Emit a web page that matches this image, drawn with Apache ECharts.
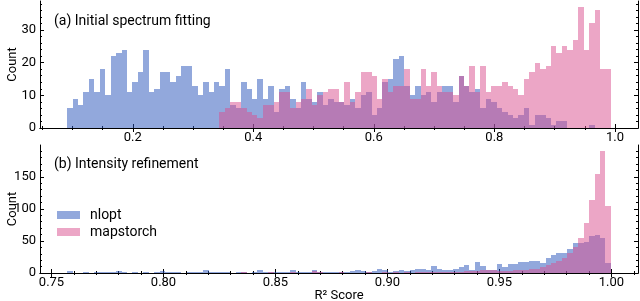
<!DOCTYPE html>
<html><head><meta charset="utf-8">
<script src="https://cdn.jsdelivr.net/npm/echarts@6/dist/echarts.min.js"></script>
<style>html,body{margin:0;padding:0;background:#fff}#c{width:640px;height:301px}</style>
</head><body><div id="c"></div><script>
// ---- data ----
const topBinStart = 0.0912, topBinWidth = 0.00902;
const topNlopt = [6,9,7,11,15,11,18,10,22,23,
 24,11,14,17,24,11,12,17,17,14,
 16,19,19,13,10,14,11,14,13,18,
 7,6,14,12,9,15,9,13,5,12,
 13,9,6,14,9,8,11,7,9,8,
 8,7,9,6,10,11,4,6,14,15,
 21,22,13,10,13,10,11,8,11,13,
 13,8,16,13,11,12,6,9,8,6,
 5,4,3,4,6,1,4,4,3,1,
 2,2,0,0,0,0,1,0,0,0];
const topMapstorch = [0,0,0,0,0,0,0,0,0,0,
 0,0,0,0,0,0,0,0,0,0,
 0,0,0,0,0,0,0,0,5,6,
 8,8,6,5,4,3,7,7,8,11,
 11,6,8,9,12,7,10,11,12,12,
 8,14,8,11,17,17,16,9,15,11,
 13,13,18,9,9,18,13,17,13,11,
 11,10,16,13,19,11,19,11,13,13,
 14,13,12,10,15,17,20,18,19,25,
 23,25,24,27,37,24,32,36,18,18];
const botBinStart = 0.757, botBinWidth = 0.002427;
const botNlopt = [3,0,0,1,0,1,2,2,1,3,
 1,0,1,0,1,0,1,3,1,2,
 2,0,1,2,1,5,1,2,1,1,
 0,1,1,0,1,4,1,1,2,1,
 2,5,2,1,2,4,2,1,1,1,
 2,1,3,5,3,2,3,6,4,2,
 3,5,3,4,6,7,5,11,6,5,
 4,6,9,12,5,17,11,5,5,14,
 10,14,14,17,17,19,19,15,24,28,
 31,31,37,46,46,49,57,59,54,16];
const botMapstorch = [0,0,0,0,0,0,0,0,0,0,
 0,0,0,0,0,0,0,0,0,0,
 0,0,0,0,0,0,0,0,0,0,
 0,0,2,0,0,0,0,1,0,0,
 0,1,0,0,0,3,2,0,0,0,
 1,0,0,0,0,1,0,0,1,0,
 1,0,1,0,1,2,1,1,1,1,
 2,2,2,3,3,3,4,5,5,3,
 3,3,4,4,5,6,7,9,12,15,
 19,23,31,40,54,78,114,154,190,105];
const seriesNames = ['nlopt', 'mapstorch'];
const topXTicks = [0.2,0.4,0.6,0.8,1.0];
const topXMinor = [0.05,0.1,0.15,0.25,0.3,0.35,0.45,0.5,0.55,0.65,0.7,0.75,0.85,0.9,0.95];
const topYTicks = [0,10,20,30];
const topYMinor = [2,4,6,8,12,14,16,18,22,24,26,28,32,34,36,38];
const botXTicks = [0.75,0.80,0.85,0.90,0.95,1.00];
const botXMinor = [0.76,0.77,0.78,0.79,0.81,0.82,0.83,0.84,0.86,0.87,0.88,0.89,0.91,0.92,0.93,0.94,0.96,0.97,0.98,0.99,1.01];
const botYTicks = [0,50,100,150];
const botYMinor = [10,20,30,40,60,70,80,90,110,120,130,140,160,170,180,190];
const panelTitles = ['(a) Initial spectrum fitting', '(b) Intensity refinement'];
const xName = 'R² Score', yName = 'Count';

// ---- styling ----
const FONT = 'Roboto';
const BLUE = 'rgba(37,81,185,0.5)';
const PINK = 'rgba(217,77,141,0.5)';
const BLUE_SOLID = 'rgb(146,168,220)';
const PINK_SOLID = 'rgb(236,166,198)';
const INK = '#000';

function bins(start, w, counts){
  return counts.map((c,i)=>[start+i*w, start+(i+1)*w, c]);
}
function extentOf(start, w, n){
  const span = w*n; return [start-0.05*span, start+span+0.05*span];
}
const topX = extentOf(topBinStart, topBinWidth, topNlopt.length);
const botX = extentOf(botBinStart, botBinWidth, botNlopt.length);
const topYMax = 1.05*Math.max(...topNlopt, ...topMapstorch);
const botYMax = 1.05*Math.max(...botNlopt, ...botMapstorch);

function render(color){
  return function(params, api){
    const a = api.coord([api.value(0), api.value(2)]);
    const b = api.coord([api.value(1), 0]);
    const x0 = Math.round(a[0]), x1 = Math.round(b[0]);
    const y0 = Math.round(a[1]), y1 = Math.round(b[1]);
    return {type:'rect', shape:{x:x0, y:y0, width:x1-x0, height:y1-y0}, style:{fill:color}};
  };
}

const line = {show:true, lineStyle:{color:INK, width:1}};
function xAxes(grid, ext, major, minor, fmt, withName){
  const base = {type:'value', gridIndex:grid, min:ext[0], max:ext[1], splitLine:{show:false}};
  return [
    Object.assign({}, base, {position:'bottom', axisLine:line,
      axisTick:{inside:true, length:4, customValues:major, lineStyle:{color:INK}},
      axisLabel:{customValues:major, formatter:v=>v.toFixed(fmt), fontFamily:FONT, fontSize:13, color:INK, margin:3},
      name: withName? xName : '', nameLocation:'middle', nameGap:16, nameMoveOverlap:false,
      nameTextStyle:{fontFamily:FONT, fontSize:13, color:INK}}),
    Object.assign({}, base, {position:'bottom', axisLine:{show:false},
      axisTick:{inside:true, length:2, customValues:minor, lineStyle:{color:INK}}, axisLabel:{show:false}}),
    Object.assign({}, base, {position:'top', axisLine:line,
      axisTick:{inside:true, length:4, customValues:major, lineStyle:{color:INK}}, axisLabel:{show:false}}),
    Object.assign({}, base, {position:'top', axisLine:{show:false},
      axisTick:{inside:true, length:2, customValues:minor, lineStyle:{color:INK}}, axisLabel:{show:false}})
  ];
}
function yAxes(grid, max, major, minor){
  const base = {type:'value', gridIndex:grid, min:0, max:max, splitLine:{show:false}};
  return [
    Object.assign({}, base, {position:'left', axisLine:line,
      axisTick:{inside:true, length:4, customValues:major, lineStyle:{color:INK}},
      axisLabel:{customValues:major, fontFamily:FONT, fontSize:13, color:INK, margin:4},
      name:yName, nameLocation:'middle', nameGap:21, nameMoveOverlap:false,
      nameTextStyle:{fontFamily:FONT, fontSize:13, color:INK}}),
    Object.assign({}, base, {position:'left', axisLine:{show:false},
      axisTick:{inside:true, length:2, customValues:minor, lineStyle:{color:INK}}, axisLabel:{show:false}}),
    Object.assign({}, base, {position:'right', axisLine:line,
      axisTick:{inside:true, length:4, customValues:major, lineStyle:{color:INK}}, axisLabel:{show:false}}),
    Object.assign({}, base, {position:'right', axisLine:{show:false},
      axisTick:{inside:true, length:2, customValues:minor, lineStyle:{color:INK}}, axisLabel:{show:false}})
  ];
}

function hist(name, data, color, xi, yi){
  return {type:'custom', name:name, xAxisIndex:xi, yAxisIndex:yi, data:data,
    encode:{x:[0,1], y:2}, renderItem:render(color), itemStyle:{color:color}, silent:true, z:2};
}

const chart = echarts.init(document.getElementById('c'), null, {renderer:'canvas'});
chart.setOption({
  animation:false,
  backgroundColor:'#fff',
  grid:[{left:40, right:2, top:1, height:127, outerBoundsMode:'none', containLabel:false},
        {left:40, right:2, top:145, height:128, outerBoundsMode:'none', containLabel:false}],
  xAxis:[...xAxes(0, topX, topXTicks, topXMinor, 1, false), ...xAxes(1, botX, botXTicks, botXMinor, 2, true)],
  yAxis:[...yAxes(0, topYMax, topYTicks, topYMinor), ...yAxes(1, botYMax, botYTicks, botYMinor)],
  legend:{left:57, top:208, orient:'vertical', itemWidth:23, itemHeight:8, itemGap:3, icon:'rect', padding:0,
    textStyle:{fontFamily:FONT, fontSize:14, color:INK, padding:[0,0,0,5]},
    data:[{name:seriesNames[0], itemStyle:{color:BLUE_SOLID}}, {name:seriesNames[1], itemStyle:{color:PINK_SOLID}}]},
  graphic:[
    {type:'text', x:54, y:21, style:{text:panelTitles[0], fontFamily:FONT, fontSize:14, fill:INK, verticalAlign:'middle', align:'left'}},
    {type:'text', x:54, y:164, style:{text:panelTitles[1], fontFamily:FONT, fontSize:14, fill:INK, verticalAlign:'middle', align:'left'}}
  ],
  series:[
    hist(seriesNames[0], bins(topBinStart, topBinWidth, topNlopt), BLUE, 0, 0),
    hist(seriesNames[1], bins(topBinStart, topBinWidth, topMapstorch), PINK, 0, 0),
    hist(seriesNames[0], bins(botBinStart, botBinWidth, botNlopt), BLUE, 4, 4),
    hist(seriesNames[1], bins(botBinStart, botBinWidth, botMapstorch), PINK, 4, 4)
  ]
});
</script></body></html>
